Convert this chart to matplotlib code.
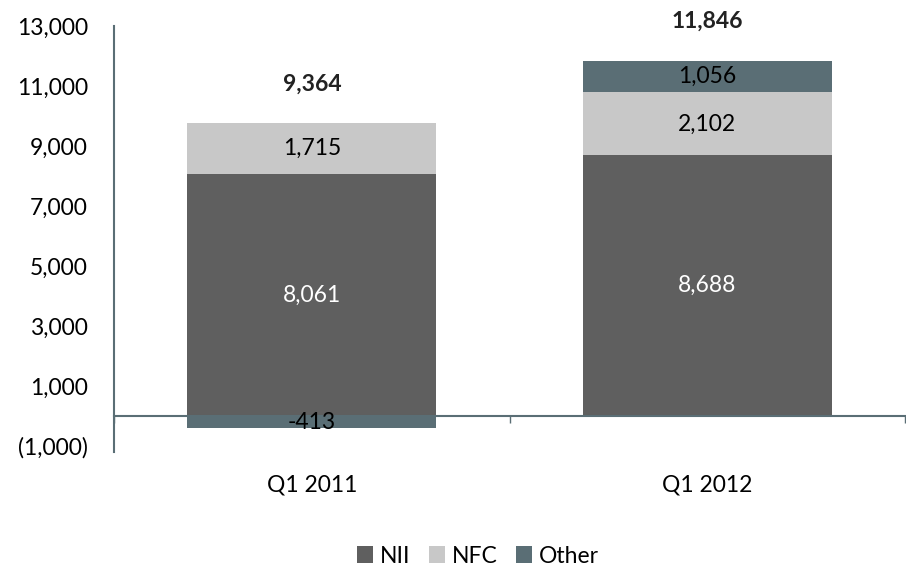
import matplotlib.pyplot as plt
import numpy as np

plt.rcParams['font.family'] = ['Lato', 'DejaVu Sans']

categories = ["Q1 2011", "Q1 2012"]
nii = [8061, 8688]
nfc = [1715, 2102]
other = [-413, 1056]
totals = [9364, 11846]
yticks = [-1000, 1000, 3000, 5000, 7000, 9000, 11000, 13000]

c_nii = "#5f5f5f"
c_nfc = "#c8c8c8"
c_other = "#5a6e75"

fig = plt.figure(figsize=(9.06, 5.66), dpi=100)
ax = fig.add_axes([0.126, 0.212, 0.873, 0.742])

x = np.arange(len(categories))
w = 0.63
nii = np.array(nii)
nfc = np.array(nfc)
other = np.array(other)

ax.bar(x, nii, w, color=c_nii, label="NII")
ax.bar(x, nfc, w, bottom=nii, color=c_nfc, label="NFC")
# negative "other" hangs below zero, positive stacks on top
ob = np.where(other < 0, 0, nii + nfc)
ax.bar(x, other, w, bottom=ob, color=c_other, label="Other")

fs = 16.5
for i in range(len(x)):
    ax.text(x[i], nii[i] / 2, f"{nii[i]:,}", ha="center", va="center",
            color="white", fontsize=fs)
    ax.text(x[i], nii[i] + nfc[i] / 2, f"{nfc[i]:,}", ha="center",
            va="center", color="black", fontsize=fs)
    ax.text(x[i], ob[i] + other[i] / 2, f"{other[i]:,}",
            ha="center", va="center", color="black", fontsize=fs)
    top = nii[i] + nfc[i] + max(other[i], 0)
    ax.text(x[i], top + 1300, f"{totals[i]:,}", ha="center", va="center",
            color="#222222", fontsize=fs, fontweight="bold")

ax.set_xlim(-0.5, 1.5)
ax.set_ylim(-1000, 13000)


def fmt(v):
    return f"({abs(v):,})" if v < 0 else f"{v:,}"


ax.set_yticks(yticks)
ax.set_yticklabels([fmt(v) for v in yticks])
ax.tick_params(axis="y", length=0, pad=19, labelsize=fs)

for s in ["top", "right"]:
    ax.spines[s].set_visible(False)
ax.spines["left"].set_color("#5a6e75")
ax.spines["left"].set_linewidth(1.5)
ax.spines["left"].set_bounds(-1200, 13000)
ax.spines["bottom"].set_position(("data", 0))
ax.spines["bottom"].set_color("#5a6e75")
ax.spines["bottom"].set_linewidth(1.5)

ax.set_xticks(x)
ax.set_xticklabels(categories)
ax.set_xticks([-0.5, 0.5, 1.5], minor=True)
ax.tick_params(axis="x", which="major", length=0, pad=42, labelsize=fs)
ax.tick_params(axis="x", which="minor", length=5, color="#5a6e75", width=1)

ax.legend(loc="center", bbox_to_anchor=(0.46, -0.262), ncol=3,
          frameon=False, fontsize=fs, handlelength=0.7, handleheight=0.7,
          handletextpad=0.3, columnspacing=0.8)

fig.savefig("out.png", dpi=100)
